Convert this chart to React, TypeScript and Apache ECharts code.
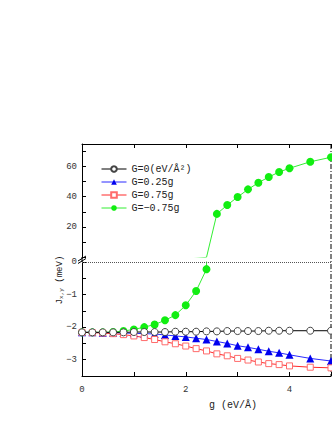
import { useEffect, useRef } from 'react';
import * as echarts from 'echarts';

const xValues = [0, 0.2, 0.4, 0.6, 0.8, 1.0, 1.2, 1.4, 1.6, 1.8, 2.0, 2.2, 2.4, 2.6, 2.8, 3.0, 3.2, 3.4, 3.6, 3.8, 4.0, 4.4, 4.8];

const seriesNames = ['G=0(eV/Å²)', 'G=0.25g', 'G=0.75g', 'G=−0.75g'];

const gZero = [-2.16, -2.16, -2.16, -2.16, -2.16, -2.15, -2.15, -2.15, -2.15, -2.14, -2.14, -2.14, -2.13, -2.13, -2.12, -2.12, -2.12, -2.12, -2.11, -2.11, -2.11, -2.11, -2.11];
const gQuarter = [-2.16, -2.16, -2.17, -2.17, -2.18, -2.19, -2.20, -2.21, -2.24, -2.27, -2.30, -2.34, -2.38, -2.44, -2.50, -2.57, -2.62, -2.68, -2.74, -2.79, -2.85, -2.96, -3.04];
const gThreeQuarter = [-2.16, -2.17, -2.18, -2.20, -2.23, -2.27, -2.32, -2.38, -2.45, -2.51, -2.58, -2.66, -2.73, -2.82, -2.88, -2.96, -3.01, -3.07, -3.12, -3.15, -3.19, -3.23, -3.25];
const gMinusThreeQuarter = [-2.16, -2.16, -2.16, -2.15, -2.12, -2.07, -2.00, -1.92, -1.79, -1.63, -1.33, -0.89, -0.22, 28.6, 34.5, 39.8, 44.9, 49.3, 53.1, 56.4, 58.9, 63.2, 66.2];

const xTickLabels = [0, 2, 4];
const upperTickLabels = [20, 40, 60];
const lowerTickLabels = [0, -1, -2, -3];

const FONT = 'Liberation Mono';

const pairs = (arr: number[]) => xValues.map((x, i) => [x, arr[i]]);
const fmt = (v: number) => String(v).replace('-', '−');
const near = (list: number[], v: number) => list.some((t) => Math.abs(t - v) < 1e-6);

export default function App() {
  const ref = useRef<HTMLDivElement>(null);
  useEffect(() => {
    const chart = echarts.init(ref.current!, null, { renderer: 'svg' });
    const axisLabelStyle = { fontFamily: FONT, fontSize: 9, color: '#333', interval: 0 };
    const tick = { show: true, inside: true, length: 4, interval: 0, lineStyle: { color: '#000' } };
    const option: any = {
      animation: false,
      backgroundColor: '#fff',
      grid: [
        { left: 82, right: 1, top: 144, height: 113, outerBoundsMode: 'none', containLabel: false },
        { left: 82, right: 1, top: 262, height: 114, outerBoundsMode: 'none', containLabel: false },
        { left: 82, right: 1, top: 230, height: 100, outerBoundsMode: 'none', containLabel: false },
      ],
      xAxis: [
        {
          gridIndex: 0, type: 'value', min: 0, max: 4.8, interval: 1, position: 'top',
          axisLine: { show: true, onZero: false, lineStyle: { color: '#000', width: 1 } },
          axisTick: tick,
          axisLabel: { show: false },
          splitLine: { show: false },
        },
        {
          gridIndex: 1, type: 'value', min: 0, max: 4.8, interval: 1, position: 'bottom',
          axisLine: { show: true, onZero: false, lineStyle: { color: '#000', width: 1 } },
          axisTick: tick,
          axisLabel: { ...axisLabelStyle, margin: 9, formatter: (v: number) => (near(xTickLabels, v) ? fmt(v) : '') },
          splitLine: { show: false },
        },
        {
          gridIndex: 2, type: 'value', show: false, min: 0, max: 1,
        },
      ],
      yAxis: [
        {
          gridIndex: 0, type: 'value', min: 0, max: 75, interval: 10,
          axisLine: { show: true, onZero: false, lineStyle: { color: '#000', width: 1 } },
          axisTick: tick,
          axisLabel: { ...axisLabelStyle, margin: 5, formatter: (v: number) => (near(upperTickLabels, v) ? fmt(v) : '') },
          splitLine: { show: false },
        },
        {
          gridIndex: 1, type: 'value', min: -3.5, max: 0, interval: 0.5,
          axisLine: { show: true, onZero: false, lineStyle: { color: '#000', width: 1 } },
          axisTick: tick,
          axisLabel: { ...axisLabelStyle, margin: 5, showMaxLabel: true, formatter: (v: number) => (near(lowerTickLabels, v) ? fmt(Math.round(v)) : '') },
          splitLine: { show: false },
        },
        {
          gridIndex: 2, type: 'value', min: 0, max: 1,
          axisLine: { show: false }, axisTick: { show: false }, axisLabel: { show: false }, splitLine: { show: false },
          name: '{j|J}{s|x,y}{j| (meV)}', nameLocation: 'middle', nameRotate: 90, nameGap: 18,
          nameTextStyle: {
            rich: {
              j: { fontFamily: FONT, fontSize: 9, color: '#222' },
              s: { fontFamily: FONT, fontSize: 6, color: '#222', verticalAlign: 'bottom' },
            },
          },
        },
      ],
      legend: {
        orient: 'vertical', left: 96, top: 159, itemWidth: 25, itemHeight: 7, itemGap: 3,
        data: seriesNames,
        lineStyle: { width: 1 },
        textStyle: { fontFamily: FONT, fontSize: 10, color: '#222', lineHeight: 10 },
        selectedMode: false,
      },
      series: [
        {
          name: seriesNames[0], type: 'line', xAxisIndex: 1, yAxisIndex: 1, data: pairs(gZero), z: 5,
          symbol: 'circle', symbolSize: 7,
          lineStyle: { color: '#000', width: 1 },
          itemStyle: { color: '#fff', borderColor: '#444', borderWidth: 1 },
          markLine: {
            silent: true, symbol: ['none', 'none'], label: { show: false },
            lineStyle: { type: 'dotted', color: '#555', width: 1 },
            data: [{ yAxis: 0 }],
          },
        },
        {
          name: seriesNames[1], type: 'line', xAxisIndex: 1, yAxisIndex: 1, data: pairs(gQuarter), z: 3,
          symbol: 'triangle', symbolSize: 8,
          lineStyle: { color: '#2a2aff', width: 1 },
          itemStyle: { color: '#0000ee' },
        },
        {
          name: seriesNames[2], type: 'line', xAxisIndex: 1, yAxisIndex: 1, data: pairs(gThreeQuarter), z: 3,
          symbol: 'rect', symbolSize: 6,
          lineStyle: { color: '#ff2a2a', width: 1 },
          itemStyle: { color: '#fff', borderColor: '#ff6b6b', borderWidth: 1 },
        },
        {
          name: seriesNames[3], type: 'line', xAxisIndex: 1, yAxisIndex: 1, data: pairs(gMinusThreeQuarter), z: 2,
          symbol: 'circle', symbolSize: 8, clip: true,
          lineStyle: { color: '#33ee33', width: 1 },
          itemStyle: { color: '#11ee11' },
        },
        {
          name: seriesNames[3], type: 'line', xAxisIndex: 0, yAxisIndex: 0, data: pairs(gMinusThreeQuarter), z: 2,
          symbol: (val: number[]) => (val[1] >= 0 ? 'circle' : 'none'), symbolSize: 8, clip: true,
          lineStyle: { color: '#33ee33', width: 1 },
          itemStyle: { color: '#11ee11' },
        },
      ],
      graphic: [
        { type: 'line', shape: { x1: 331, y1: 144, x2: 331, y2: 376 }, style: { stroke: '#000', lineWidth: 1, lineDash: [5, 2, 1, 2] } },
        { type: 'line', shape: { x1: 82, y1: 257, x2: 82, y2: 262 }, style: { stroke: '#000', lineWidth: 1 } },
        { type: 'line', shape: { x1: 78, y1: 261, x2: 86, y2: 256 }, style: { stroke: '#000', lineWidth: 1 } },
        { type: 'line', shape: { x1: 78, y1: 263.5, x2: 86, y2: 258.5 }, style: { stroke: '#000', lineWidth: 1 } },
        {
          type: 'text', x: 233, y: 405,
          style: { text: 'g (eV/Å)', fontFamily: FONT, fontSize: 10, fill: '#222', align: 'center', verticalAlign: 'middle' },
        },
      ],
    };
    chart.setOption(option);
    return () => chart.dispose();
  }, []);
  return <div ref={ref} style={{ position: 'fixed', left: 0, top: 0, width: 332, height: 430 }} />;
}
